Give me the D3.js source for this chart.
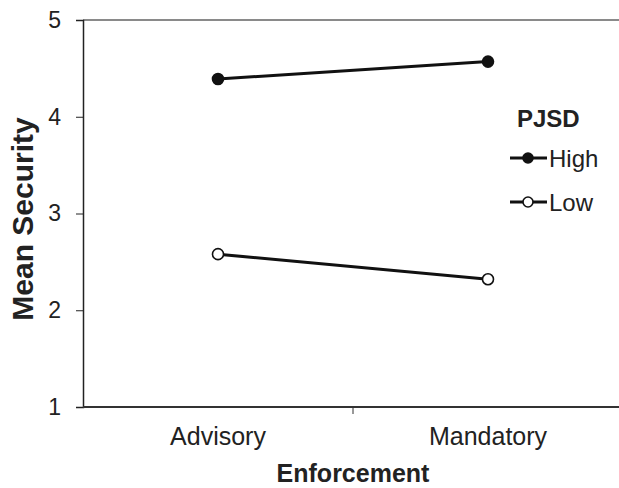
<!DOCTYPE html>
<html lang="en">
  <head>
    <meta charset="UTF-8" />
    <title>Mean Security by Enforcement</title>
    <style>
      body { margin: 0; background: #fff; }
      text { font-family: "Liberation Sans", Arial, sans-serif; fill: #222; }
    </style>
  </head>
  <body>
    <svg id="svg" width="619" height="488"></svg>

    <script src="https://cdn.jsdelivr.net/npm/d3@7"></script>
    <script>
      const categories = ["Advisory", "Mandatory"];
      const groups = ["High", "Low"];
      const highValues = [4.39, 4.57];
      const lowValues = [2.58, 2.32];
      const yTicks = [1, 2, 3, 4, 5];

      const LEFT = 83;
      const RIGHT = 623;
      const TOP = 20;
      const BOTTOM = 407;

      const svg = d3.select("#svg");

      const xScale = d3.scaleBand().domain(categories).range([LEFT, RIGHT]);
      const yScale = d3.scaleLinear().domain([1, 5]).range([BOTTOM, TOP]);

      // top border line
      svg
        .append("line")
        .attr("x1", LEFT)
        .attr("x2", 619)
        .attr("y1", TOP)
        .attr("y2", TOP)
        .attr("stroke", "#8a8a8a")
        .attr("stroke-width", 2);

      const leftAxis = d3.axisLeft(yScale).tickValues(yTicks).tickFormat(d3.format("d")).tickSize(7).tickPadding(15);
      const yAxisG = svg.append("g").attr("transform", `translate(${LEFT}, 0)`).call(leftAxis);
      yAxisG.select(".domain").attr("stroke", "#222").attr("stroke-width", 1.5);
      yAxisG.selectAll(".tick line").attr("stroke", "#222");
      yAxisG.selectAll("text").attr("font-size", 23).attr("fill", "#222");

      const bottomAxis = d3.axisBottom(xScale).tickSize(0).tickPadding(20);
      const xAxisG = svg.append("g").attr("transform", `translate(0, ${BOTTOM})`).call(bottomAxis);
      xAxisG.select(".domain").attr("stroke", "#333").attr("stroke-width", 2).attr("d", `M${LEFT},0H619`);
      xAxisG.selectAll("text").attr("font-size", 25).attr("fill", "#222");

      // tick between the categories
      svg
        .append("line")
        .attr("x1", xScale("Mandatory"))
        .attr("x2", xScale("Mandatory"))
        .attr("y1", BOTTOM)
        .attr("y2", BOTTOM + 7)
        .attr("stroke", "#333");

      // axis titles
      svg
        .append("text")
        .attr("x", 353)
        .attr("y", 482)
        .attr("text-anchor", "middle")
        .attr("font-size", 25)
        .attr("font-weight", "bold")
        .text("Enforcement");

      svg
        .append("text")
        .attr("transform", `translate(33, 219) rotate(-90)`)
        .attr("text-anchor", "middle")
        .attr("font-size", 30)
        .attr("font-weight", "bold")
        .text("Mean Security");

      const series = [
        { name: groups[0], values: highValues, fill: "#111" },
        { name: groups[1], values: lowValues, fill: "#fff" },
      ];

      const cx = (c) => xScale(c) + xScale.bandwidth() / 2;
      const line = d3
        .line()
        .x((d, i) => cx(categories[i]))
        .y((d) => yScale(d));

      series.forEach((s) => {
        svg
          .append("path")
          .attr("d", line(s.values))
          .attr("fill", "none")
          .attr("stroke", "#111")
          .attr("stroke-width", 3);
        svg
          .selectAll(null)
          .data(s.values)
          .enter()
          .append("circle")
          .attr("cx", (d, i) => cx(categories[i]))
          .attr("cy", (d) => yScale(d))
          .attr("r", 5.5)
          .attr("fill", s.fill)
          .attr("stroke", "#111")
          .attr("stroke-width", 1.6);
      });

      // legend
      const legend = svg.append("g").attr("transform", "translate(510, 0)");
      legend
        .append("text")
        .attr("x", 7)
        .attr("y", 127)
        .attr("font-size", 24)
        .attr("font-weight", "bold")
        .text("PJSD");
      series.forEach((s, i) => {
        const y = 158 + i * 44;
        legend
          .append("line")
          .attr("x1", 0)
          .attr("x2", 37)
          .attr("y1", y)
          .attr("y2", y)
          .attr("stroke", "#111")
          .attr("stroke-width", 3);
        legend
          .append("circle")
          .attr("cx", 18)
          .attr("cy", y)
          .attr("r", 5)
          .attr("fill", s.fill)
          .attr("stroke", "#111")
          .attr("stroke-width", 1.6);
        legend
          .append("text")
          .attr("x", 39)
          .attr("y", y + 9)
          .attr("font-size", 24)
          .text(s.name);
      });
    </script>
  </body>
</html>
